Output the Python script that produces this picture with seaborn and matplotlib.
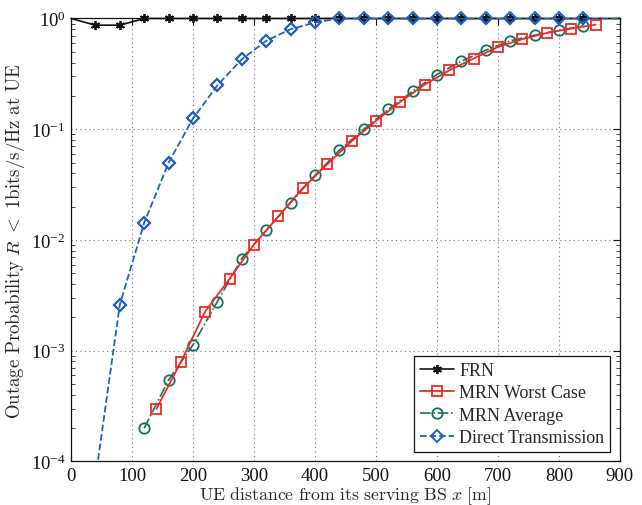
import numpy as np
import matplotlib
matplotlib.use("Agg")
import matplotlib.pyplot as plt
import seaborn as sns
from matplotlib.ticker import LogLocator, NullFormatter

# ---- data ----
frn_x = [0, 40, 80, 120, 160, 200, 240, 280, 320, 360, 400, 440, 480, 520,
         560, 600, 640, 680, 720, 760, 800, 840, 900]
frn_y = [1.0, 0.87, 0.87] + [1.0] * 20

worst_x = [140, 180, 220, 260, 300, 340, 380, 420, 460, 500, 540, 580, 620,
           660, 700, 740, 780, 820, 860]
worst_y = [2.98e-4, 7.9e-4, 2.26e-3, 4.46e-3, 9.1e-3, 0.0163, 0.0294, 0.0482,
           0.0777, 0.119, 0.177, 0.253, 0.34, 0.435, 0.553, 0.65, 0.74, 0.81, 0.88]

avg_x = [120, 160, 200, 240, 280, 320, 360, 400, 440, 480, 520, 560, 600,
         640, 680, 720, 760, 800, 840]
avg_y = [2.0e-4, 5.44e-4, 1.13e-3, 2.78e-3, 6.8e-3, 0.0122, 0.0217, 0.0383,
         0.0645, 0.0998, 0.151, 0.22, 0.312, 0.411, 0.517, 0.628, 0.706, 0.78, 0.86]

direct_x = [40, 80, 120, 160, 200, 240, 280, 320, 360, 400, 440, 480, 520,
            560, 600, 640, 680, 720, 760, 800, 840, 900]
direct_y = [7e-5, 2.6e-3, 0.0143, 0.0499, 0.125, 0.249, 0.428, 0.628, 0.80,
            0.92] + [1.0] * 12

labels = ["FRN", "MRN Worst Case", "MRN Average", "Direct Transmission"]
x_ticks = [0, 100, 200, 300, 400, 500, 600, 700, 800, 900]

# ---- style ----
sns.set_style("white")
plt.rcParams["font.family"] = ["Liberation Serif", "DejaVu Serif"]
plt.rcParams["mathtext.fontset"] = "cm"
plt.rcParams["xtick.direction"] = "in"
plt.rcParams["ytick.direction"] = "in"

BLACK = "#111111"
RED = "#ee2a24"
GREEN = "#14705c"
BLUE = "#1f5fbd"

fig = plt.figure(figsize=(6.42, 5.06), dpi=100)
ax = fig.add_axes([0.1106, 0.086, 0.855, 0.8755])

sns.lineplot(x=frn_x, y=frn_y, ax=ax, color=BLACK, linestyle="-", lw=1.2,
             marker=(6, 2, 0), markersize=6.5, markeredgewidth=1.3,
             markeredgecolor=BLACK, markevery=list(range(1, 22)),
             clip_on=False, zorder=3)
sns.lineplot(x=worst_x, y=worst_y, ax=ax, color=RED, linestyle="-", lw=1.3,
             marker="s", markersize=6.5, markerfacecolor="none",
             markeredgecolor=RED, markeredgewidth=1.3, clip_on=False, zorder=4)
sns.lineplot(x=avg_x, y=avg_y, ax=ax, color=GREEN, linestyle="-.", lw=1.2,
             marker="o", markersize=7.5, markerfacecolor="none",
             markeredgecolor=GREEN, markeredgewidth=1.3, clip_on=False, zorder=3.5)
sns.lineplot(x=direct_x, y=direct_y, ax=ax, color=BLUE, linestyle="--", lw=1.3,
             marker="D", markersize=6, markerfacecolor="none",
             markeredgecolor=BLUE, markeredgewidth=1.4,
             markevery=list(range(1, 21)), zorder=5)
# marker overlay so that markers on the top edge are not clipped
ax.plot(direct_x[1:21], direct_y[1:21], linestyle="none", marker="D",
        markersize=6, markerfacecolor="none", markeredgecolor=BLUE,
        markeredgewidth=1.4, clip_on=False, zorder=5)

ax.set_yscale("log")
ax.set_xlim(0, 900)
ax.set_ylim(1e-4, 1)
ax.set_xticks(x_ticks)
ax.set_xticklabels([str(t) for t in x_ticks])
ax.yaxis.set_major_locator(LogLocator(base=10, numticks=10))
ax.yaxis.set_minor_locator(LogLocator(base=10, subs=np.arange(2, 10), numticks=100))
ax.yaxis.set_minor_formatter(NullFormatter())

ax.tick_params(axis="both", which="major", labelsize=13.5, length=5, width=0.8,
               top=True, right=True, colors=BLACK, pad=4)
ax.tick_params(axis="y", which="minor", length=3, width=0.6, right=True, left=True)
ax.grid(True, which="major", linestyle=(0, (1, 3)), color="0.45", lw=0.8)
ax.grid(False, which="minor")
for s in ax.spines.values():
    s.set_color(BLACK)
    s.set_linewidth(0.9)
    s.set_visible(True)

ax.set_xlabel(r"$\mathrm{UE\ distance\ from\ its\ serving\ BS}\ x\ \mathrm{[m]}$",
              fontsize=12.8, labelpad=0)
ax.set_ylabel(r"$\mathrm{Outage\ Probability}\ R\ <\ \mathrm{1bits}/\mathrm{s}/\mathrm{Hz\ at\ UE}$",
              fontsize=13.6, labelpad=3)

handles = ax.get_lines()[:4]
leg = ax.legend(handles, labels, loc="lower right", fontsize=13, frameon=True,
                fancybox=False, edgecolor=BLACK, framealpha=1,
                handlelength=1.9, handletextpad=0.3, labelspacing=0.3,
                borderpad=0.3, borderaxespad=0.55)
leg.get_frame().set_linewidth(0.9)

fig.savefig("out.png", dpi=100)
